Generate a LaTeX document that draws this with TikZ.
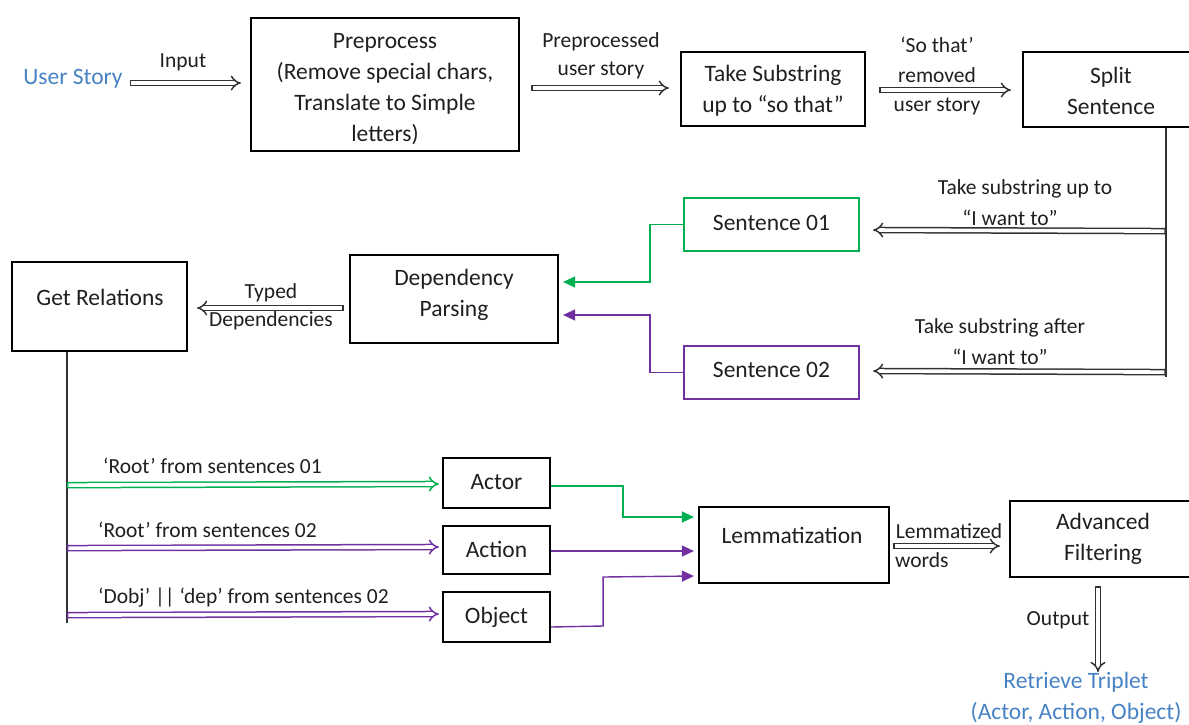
\documentclass[tikz,border=0pt]{standalone}
\usepackage{fontspec}
\setmainfont{Carlito}
\usetikzlibrary{arrows.meta,calc}
\definecolor{storyblue}{RGB}{70,130,196}
\definecolor{sgreen}{RGB}{0,176,80}
\definecolor{spurple}{RGB}{112,48,160}
\definecolor{linegray}{RGB}{50,50,50}
\begin{document}
\begin{tikzpicture}[x=1pt,y=-1pt,
  box/.style={draw=black, line width=2.2pt, inner sep=0pt},
  boxtext/.style={font=\fontsize{23.5}{31}\selectfont, text=black!88, align=center, inner sep=0pt},
  lbl/.style={font=\fontsize{21.5}{29}\selectfont, text=black!88, inner sep=0pt},
  hollow/.style={draw=linegray, double=white, double distance=3.6pt, line width=1.5pt,
    {Bar[width=6.6pt, line width=1.5pt]}-{Implies[length=7pt, width=15pt]}},
  ghollow/.style={hollow, draw=sgreen},
  phollow/.style={hollow, draw=spurple},
  trunk/.style={draw=linegray, line width=1.4pt},
  gflow/.style={draw=sgreen, line width=1.4pt, -{Triangle[length=12pt,width=11pt]}},
  pflow/.style={draw=spurple, line width=1.4pt, -{Triangle[length=12pt,width=11pt]}},
  blue/.style={font=\fontsize{23.5}{31}\selectfont, text=storyblue, align=center, inner sep=0pt}
]
\useasboundingbox (0,0) rectangle (1189,724);
\clip (0,0) rectangle (1189,724);

% ---- top row ----
\node[blue] (us) at (73,79) {User Story};
\node[box, minimum width=268pt, minimum height=133pt] (pre) at (385,84.5) {};
\node[boxtext] (pret) at (385,89) {Preprocess\\(Remove special chars,\\Translate to Simple\\letters)};
\node[box, minimum width=184pt, minimum height=74pt] (sub) at (773,89) {};
\node[boxtext] (subt) at (773,90.5) {Take Substring\\up to “so that”};
\node[box, minimum width=180pt, minimum height=75pt] (split) at (1113,89.5) {};
\node[boxtext] (splitt) at (1111,90.5) {Split\\Sentence};

\draw[hollow] ($(us.east)+(7,4)$) -- ($(pre.west)+(-9,-1.5)$);
\node[lbl] (lin) at (183,62) {Input};
\draw[hollow] ($(pre.east)+(11,3.5)$) -- ($(sub.west)+(-11,-1)$);
\node[lbl] (lpre1) at (601,42) {Preprocessed};
\node[lbl] (lpre2) at (601,70) {user story};
\draw[hollow] ($(sub.east)+(13,1)$) -- ($(split.west)+(-11,0.5)$);
\node[lbl] (lso1) at (937,45) {‘So that’};
\node[lbl] (lso2) at (937,75) {removed};
\node[lbl] (lso3) at (937,106) {user story};

% ---- split into two sentences ----
\coordinate (stop) at ($(split.south west)+(144,0)$);
\coordinate (sbot) at ($(stop)+(0,249)$);
\draw[trunk] (stop) -- (sbot);
\node[box, draw=sgreen, minimum width=175pt, minimum height=53pt] (s1) at (771.5,224.5) {};
\node[boxtext] (s1t) at (771.5,223) {Sentence 01};
\node[box, draw=spurple, minimum width=175pt, minimum height=53pt] (s2) at (771.5,372.5) {};
\node[boxtext] (s2t) at (771.5,370) {Sentence 02};
\draw[hollow] ($(stop)+(0,103)$) -- ($(s1.east)+(13,5.5)$);
\node[lbl] (lt1a) at (1025,189) {Take substring up to};
\node[lbl] (lt1b) at (1010,218) {“I want to”};
\draw[hollow] ($(stop)+(0,244)$) -- ($(s2.east)+(13,-1.5)$);
\node[lbl] (lt2a) at (1000,328) {Take substring after};
\node[lbl] (lt2b) at (1000,357) {“I want to”};

% ---- dependency parsing ----
\node[box, minimum width=208pt, minimum height=88pt] (dep) at (454,299) {};
\node[boxtext] (dept) at (454,294.5) {Dependency\\Parsing};
\draw[gflow] (s1.west) -- ++(-33,0) |- ($(dep.east)+(4,-17)$);
\draw[pflow] (s2.west) -- ++(-33,0) |- ($(dep.east)+(4,16)$);

\node[box, minimum width=175pt, minimum height=89pt] (rel) at (99.5,306.5) {};
\node[boxtext] (relt) at (100,297) {Get Relations};
\draw[hollow] ($(dep.west)+(-5,9)$) -- ($(rel.east)+(9,1.5)$);
\node[lbl] (lty1) at (271,293) {Typed};
\node[lbl] (lty2) at (271,321) {Dependencies};

% ---- actor / action / object ----
\coordinate (rtop) at ($(rel.south west)+(56,0)$);
\coordinate (rbot) at ($(rtop)+(0,271)$);
\draw[trunk] (rtop) -- (rbot);
\node[box, minimum width=107pt, minimum height=50pt] (actor) at (496.5,483) {};
\node[boxtext] (actort) at (496.5,482) {Actor};
\node[box, minimum width=107pt, minimum height=48pt] (action) at (496.5,550) {};
\node[boxtext] (actiont) at (496.5,549) {Action};
\node[box, minimum width=107pt, minimum height=50pt] (object) at (496.5,617) {};
\node[boxtext] (objectt) at (496.5,617) {Object};

\draw[ghollow] ($(rtop)+(0,133)$) -- ($(actor.west)+(-3,1)$);
\node[lbl, anchor=west] (lr1) at (103,466) {‘Root’ from sentences 01};
\draw[phollow] ($(rtop)+(0,196)$) -- ($(action.west)+(-3,-3)$);
\node[lbl, anchor=west] (lr2) at (98,530) {‘Root’ from sentences 02};
\draw[phollow] ($(rtop)+(0,263)$) -- ($(object.west)+(-3,-3)$);
\node[lbl, anchor=west] (lr3) at (98,598) {‘Dobj’ || ‘dep’ from sentences 02};

% ---- lemmatization and filtering ----
\node[box, minimum width=190pt, minimum height=76pt] (lem) at (794,545) {};
\node[boxtext] (lemt) at (792,535) {Lemmatization};
\draw[gflow] ($(actor.east)+(0,3)$) -- ++(72,0) |- ($(lem.west)+(-4,-28)$);
\draw[pflow] ($(action.east)+(0,1)$) -- ($(lem.west)+(-4,6)$);
\draw[pflow] ($(object.east)+(0,10)$) -- ++(52,-1) -- ++(0,-49) -- ($(lem.west)+(-4,31)$);

\node[box, minimum width=190pt, minimum height=76pt] (adv) at (1105,539) {};
\node[boxtext] (advt) at (1103,538.5) {Advanced\\Filtering};
\draw[hollow] ($(lem.east)+(3,1)$) -- ($(adv.west)+(-9,7)$);
\node[lbl] (lle1) at (949,531) {Lemmatized};
\node[lbl, anchor=west] (lle2) at (895,560) {words};

\coordinate (outtip) at (1098,672);
\draw[hollow] ($(adv.south)+(-7,8)$) -- (outtip);
\node[lbl] (lout) at (1058,620) {Output};
\node[blue] (res) at (1076,697.5) {Retrieve Triplet\\(Actor, Action, Object)};
\end{tikzpicture}
\end{document}
